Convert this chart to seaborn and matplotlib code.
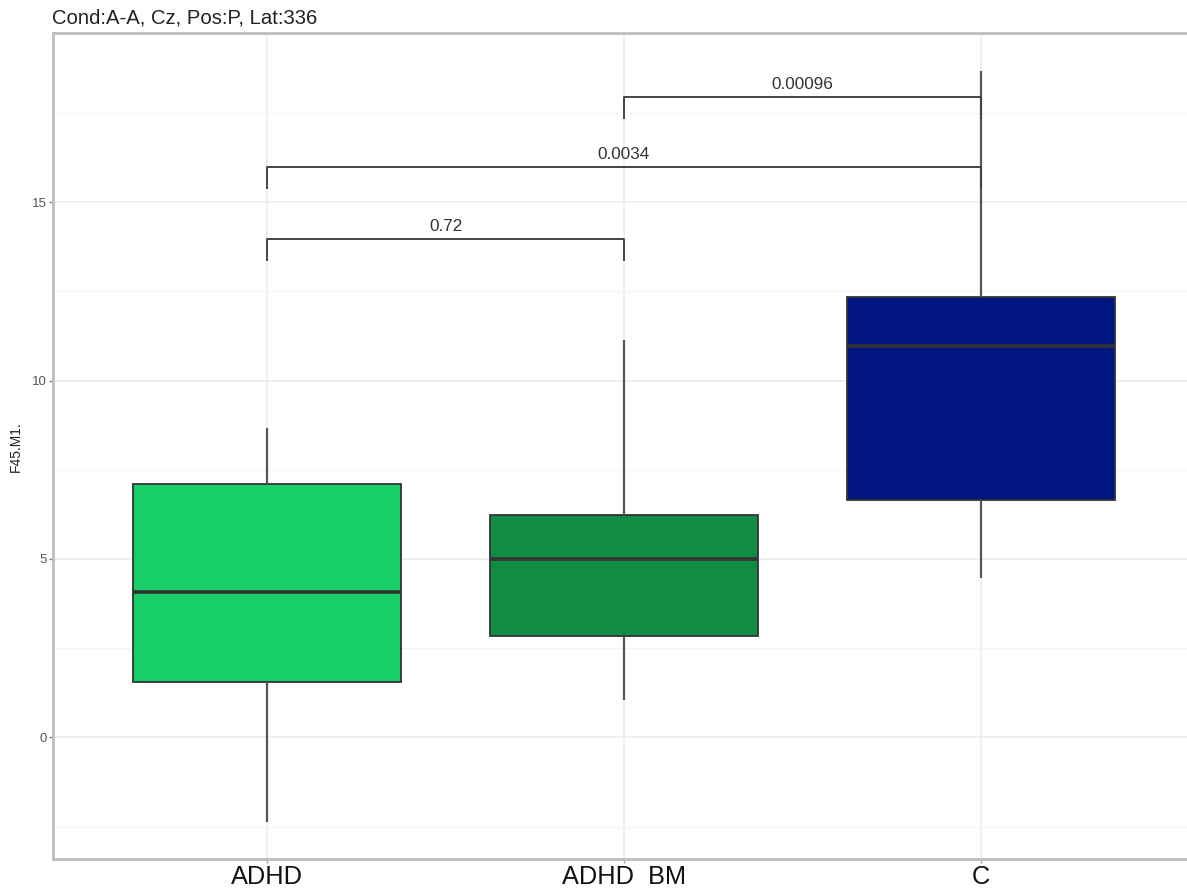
import numpy as np
import pandas as pd
import matplotlib
matplotlib.use("Agg")
import matplotlib.pyplot as plt
import seaborn as sns
from matplotlib.ticker import MultipleLocator

# Groups and their five-number summaries: min, Q1, median, Q3, max
groups = ["ADHD", "ADHD_BM", "C"]
tick_labels = ["ADHD", "ADHD  BM", "C"]
adhd = [-2.37, 1.56, 4.07, 7.10, 8.68]
adhd_bm = [1.05, 2.84, 4.99, 6.23, 11.15]
ctrl = [4.47, 6.65, 10.96, 12.33, 18.68]
colors = ["#17CE68", "#118C44", "#001580"]

# Pairwise comparisons with their p-values and bracket heights
comparisons = [("ADHD", "ADHD_BM"), ("ADHD", "C"), ("ADHD_BM", "C")]
p_labels = ["0.72", "0.0034", "0.00096"]
bracket_y = [13.96, 15.98, 17.96]

title = "Cond:A-A, Cz, Pos:P, Lat:336"
y_label = "F45.M1."

df = pd.DataFrame({
    "group": np.repeat(groups, 5),
    "value": adhd + adhd_bm + ctrl,
})

sns.set_theme(style="white")
plt.rcParams["font.family"] = ["Liberation Sans", "DejaVu Sans"]

W, H = 1187, 888
fig = plt.figure(figsize=(W / 100, H / 100), dpi=100)
ax = fig.add_axes([53 / W, 1 - 859 / H, (1195 - 53) / W, (859 - 33.5) / H])

sns.boxplot(
    data=df, x="group", y="value", hue="group", order=groups, hue_order=groups,
    palette=colors, width=0.75, whis=(0, 100), linecolor="#333333", linewidth=1.3,
    fliersize=0, showcaps=False, legend=False, saturation=1,
    medianprops=dict(color="#333333", linewidth=2.6),
    whiskerprops=dict(color="#555555", linewidth=1.6),
    ax=ax,
)

# significance brackets
pos = {g: i for i, g in enumerate(groups)}
tip = 0.62
for (g1, g2), lab, yb in zip(comparisons, p_labels, bracket_y):
    x1, x2 = pos[g1], pos[g2]
    ax.plot([x1, x1, x2, x2], [yb - tip, yb, yb, yb - tip],
            color="#444444", lw=1.4, solid_capstyle="butt", zorder=4)
    ax.text((x1 + x2) / 2, yb + 0.22, lab, ha="center", va="baseline",
            fontsize=12.3, color="#333333")

ax.set_xlim(-0.6, 2.6)
ax.set_ylim(-3.41, 19.73)
ax.yaxis.set_major_locator(MultipleLocator(5))
ax.yaxis.set_minor_locator(MultipleLocator(2.5))
ax.set_axisbelow(True)
ax.grid(which="major", axis="both", color="#ebebeb", lw=1.1)
ax.grid(which="minor", axis="y", color="#f4f4f4", lw=0.9)
ax.tick_params(axis="y", which="minor", length=0)

ax.set_xticks(range(len(groups)))
ax.set_xticklabels(tick_labels)
ax.tick_params(axis="x", labelsize=18.3, labelcolor="#111111", color="#a0a0a0",
               length=3, width=1, pad=1.2, bottom=True)
ax.tick_params(axis="y", which="major", labelsize=9.5, labelcolor="#555555",
               color="#808080", length=3, width=1, pad=1.5, left=True)

for s in ax.spines.values():
    s.set_color("#bdbdbd")
    s.set_linewidth(2.0)

ax.set_xlabel("")
ax.set_ylabel("")
fig.text(16 / W, 0.5 * ((1 - 859 / H) + (1 - 33.5 / H)), y_label, rotation=90,
         ha="center", va="center", fontsize=10, color="#222222")
fig.text(52 / W, 1 - 23 / H, title, ha="left", va="baseline",
         fontsize=14.6, color="#222222")

fig.savefig("out.png", dpi=100)
